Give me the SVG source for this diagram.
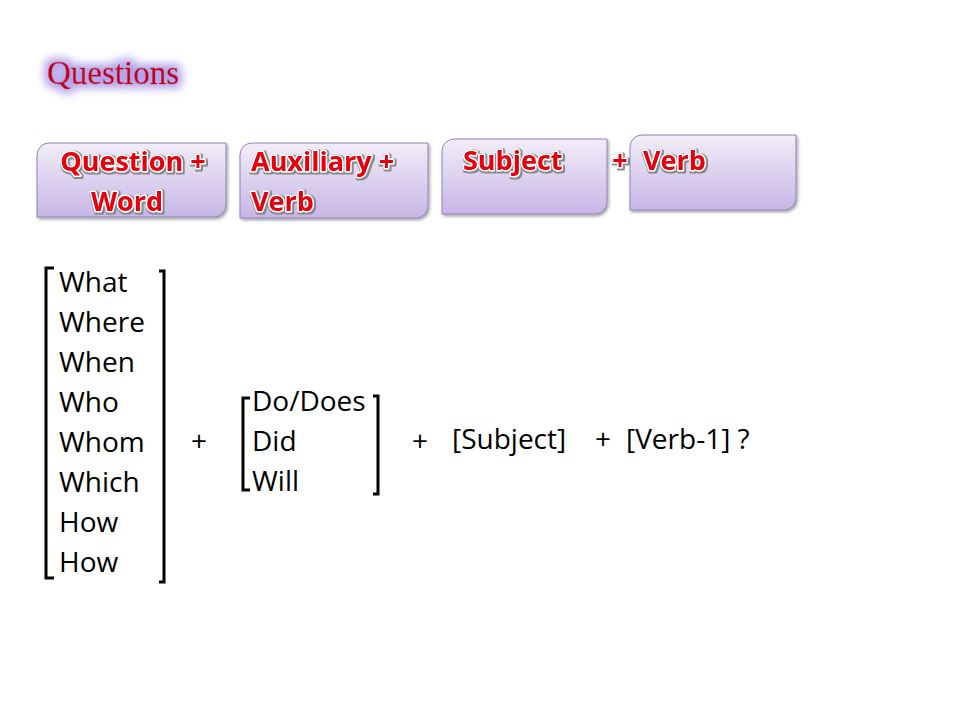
<svg xmlns="http://www.w3.org/2000/svg" width="960" height="720" viewBox="0 0 960 720">
  <style>
    .box { fill: url(#boxGrad); stroke: #8d82b5; stroke-width: 1; filter: url(#boxShadow); }
    .btxt { font-family: "Open Sans", "Liberation Sans", sans-serif; font-weight: bold; font-size: 27px; fill: #e6000f; stroke: #ffffff; stroke-width: 3; stroke-linejoin: round; paint-order: stroke fill; filter: url(#txtShadow); }
    .body { font-family: "Open Sans", "Liberation Sans", sans-serif; font-size: 28px; fill: #000000; }
    .brk { fill: none; stroke: #000000; stroke-width: 3; stroke-linejoin: miter; }
    .title { font-family: "Liberation Serif", "Times New Roman", serif; font-size: 33px; fill: #c0001c; stroke: #c0001c; stroke-width: 0.4; }
  </style>
  <defs>
    <linearGradient id="boxGrad" x1="0" y1="0" x2="0" y2="1">
      <stop offset="0" stop-color="#f2edf9"/>
      <stop offset="1" stop-color="#c7b6e6"/>
    </linearGradient>
    <filter id="boxShadow" x="-10%" y="-10%" width="120%" height="130%">
      <feDropShadow dx="1.5" dy="2" stdDeviation="1.5" flood-color="#000000" flood-opacity="0.35"/>
    </filter>
    <filter id="txtShadow" x="-10%" y="-20%" width="120%" height="140%">
      <feMorphology in="SourceAlpha" operator="dilate" radius="0.8" result="d"/>
      <feGaussianBlur in="d" stdDeviation="0.6" result="b"/>
      <feFlood flood-color="#808080" flood-opacity="0.9"/>
      <feComposite in2="b" operator="in" result="g"/>
      <feOffset in="g" dx="0.6" dy="0.6" result="o"/>
      <feMerge>
        <feMergeNode in="o"/>
        <feMergeNode in="SourceGraphic"/>
      </feMerge>
    </filter>
    <filter id="glow" x="-20%" y="-50%" width="140%" height="200%">
      <feMorphology in="SourceAlpha" operator="dilate" radius="4" result="d"/>
      <feGaussianBlur in="d" stdDeviation="4" result="b"/>
      <feFlood flood-color="#ab9ae8" flood-opacity="0.9"/>
      <feComposite in2="b" operator="in" result="g"/>
      <feMerge>
        <feMergeNode in="g"/>
        <feMergeNode in="SourceGraphic"/>
      </feMerge>
    </filter>
  </defs>

  <rect width="960" height="720" fill="#ffffff"/>

  <g id="title">
    <text class="title" x="47" y="84" filter="url(#glow)">Questions</text>
  </g>

  <g id="box-question-word">
    <path class="box" d="M49,143 H226 V205 A12,12 0 0 1 214,217 H37 V155 A12,12 0 0 1 49,143 Z"/>
    <text class="btxt" x="133" y="171" text-anchor="middle">Question +</text>
    <text class="btxt" x="127" y="211" text-anchor="middle">Word</text>
  </g>

  <g id="box-auxiliary-verb">
    <path class="box" d="M252,143 H428 V206 A12,12 0 0 1 416,218 H240 V155 A12,12 0 0 1 252,143 Z"/>
    <text class="btxt" x="251" y="171">Auxiliary +</text>
    <text class="btxt" x="251" y="211">Verb</text>
  </g>

  <g id="box-subject">
    <path class="box" d="M454,139 H607 V202 A12,12 0 0 1 595,214 H442 V151 A12,12 0 0 1 454,139 Z"/>
    <text class="btxt" x="463" y="170">Subject</text>
  </g>

  <g id="plus-boxes">
    <text class="btxt" x="620" y="170" text-anchor="middle">+</text>
  </g>

  <g id="box-verb">
    <path class="box" d="M642,135 H796 V198 A12,12 0 0 1 784,210 H630 V147 A12,12 0 0 1 642,135 Z"/>
    <text class="btxt" x="643" y="170">Verb</text>
  </g>

  <g id="question-words">
    <path class="brk" d="M54,268 H46 V578 H54"/>
    <path class="brk" d="M159,271 H164 V582 H159"/>
    <text class="body" x="59" y="292">What</text>
    <text class="body" x="59" y="332">Where</text>
    <text class="body" x="59" y="372">When</text>
    <text class="body" x="59" y="412">Who</text>
    <text class="body" x="59" y="452">Whom</text>
    <text class="body" x="59" y="492">Which</text>
    <text class="body" x="59" y="532">How</text>
    <text class="body" x="59" y="572">How</text>
  </g>

  <g id="plus1">
    <text class="body" x="199" y="451" text-anchor="middle">+</text>
  </g>

  <g id="auxiliaries">
    <path class="brk" d="M250,398 H243 V490 H250"/>
    <path class="brk" d="M373,396 H378 V494 H373"/>
    <text class="body" x="252" y="411">Do/Does</text>
    <text class="body" x="252" y="451">Did</text>
    <text class="body" x="252" y="491">Will</text>
  </g>

  <g id="plus2">
    <text class="body" x="420" y="451" text-anchor="middle">+</text>
  </g>

  <g id="subject">
    <text class="body" x="452" y="449">[Subject]</text>
  </g>

  <g id="plus3">
    <text class="body" x="603" y="449" text-anchor="middle">+</text>
  </g>

  <g id="verb">
    <text class="body" x="626" y="449">[Verb-1] ?</text>
  </g>

  <g id="connectors"/>
</svg>
